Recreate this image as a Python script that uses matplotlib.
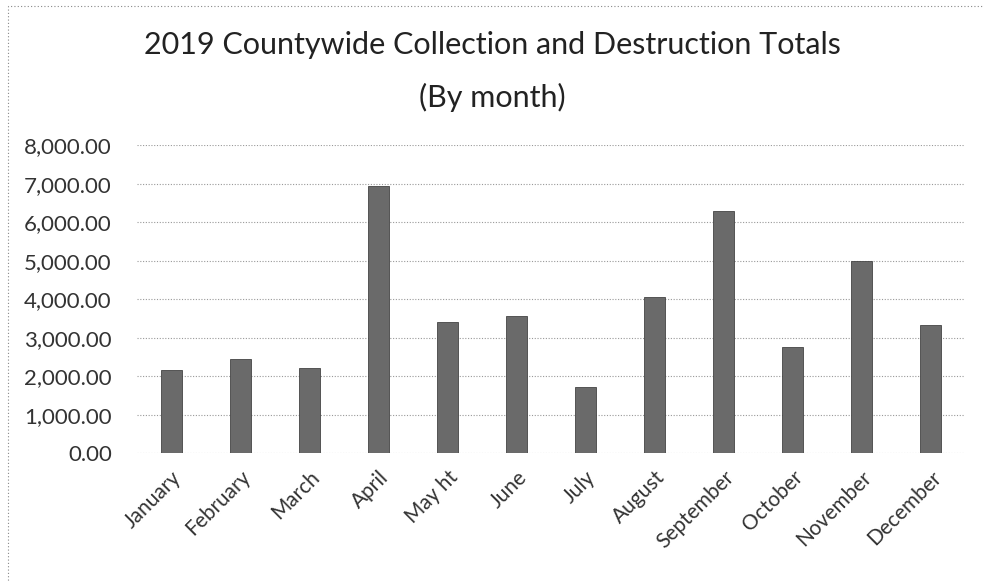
import matplotlib.pyplot as plt
import numpy as np

months = ['January', 'February', 'March', 'April', 'May ht', 'June', 'July',
          'August', 'September', 'October', 'November', 'December']
totals = [2170, 2450, 2220, 6930, 3410, 3570, 1720, 4070, 6280, 2770, 5000, 3330]
yticks = [0, 1000, 2000, 3000, 4000, 5000, 6000, 7000, 8000]

plt.rcParams['font.family'] = ['Lato', 'DejaVu Sans']

fig = plt.figure(figsize=(9.84, 5.81), dpi=100)
ax = fig.add_axes([0.139, 0.22, 0.842, 0.53])

x = np.arange(len(months))
ax.bar(x, totals, width=0.3, color='#6a6a6a', edgecolor='#444444', linewidth=0.6, zorder=3)

ax.set_xlim(-0.5, len(months) - 0.5)
ax.set_ylim(0, 8000)
ax.set_yticks(yticks)
ax.set_yticklabels([f'{v:,.2f}' for v in yticks], fontsize=16, color='#333333')
ax.set_xticks(x)
ax.set_xticklabels(months, rotation=45, ha='right', rotation_mode='anchor',
                   fontsize=15, color='#333333')
ax.tick_params(axis='y', length=0, pad=18)
ax.tick_params(axis='x', length=0, pad=10)
ax.grid(axis='y', color='#999999', linestyle=(0, (1, 1.5)), linewidth=0.8, zorder=0)
for s in ax.spines.values():
    s.set_visible(False)

fig.text(0.5, 0.922, '2019 Countywide Collection and Destruction Totals',
         ha='center', va='center', fontsize=22, color='#222222')
fig.text(0.5, 0.832, '(By month)', ha='center', va='center', fontsize=22, color='#222222')

# dotted frame of the scanned chart area
fig.add_artist(plt.Rectangle((0.008, -0.01), 1.0, 1.0, transform=fig.transFigure, fill=False,
                             edgecolor='#888888', linestyle=(0, (1, 2)), linewidth=0.8))

fig.savefig('out.png', dpi=100)
